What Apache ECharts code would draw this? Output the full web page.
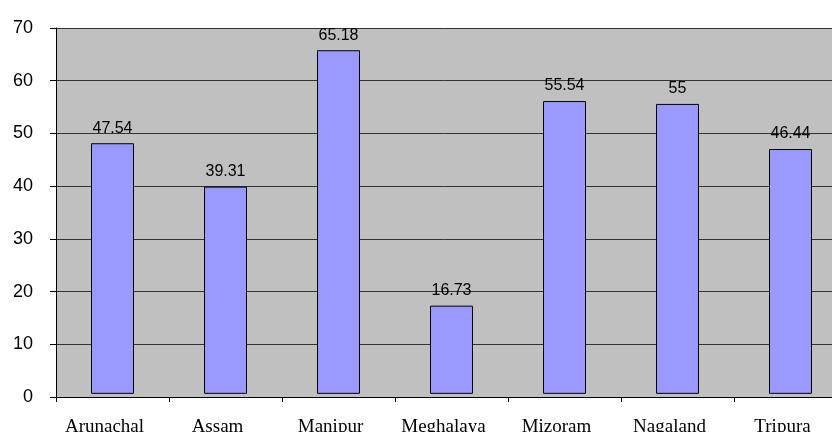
<!DOCTYPE html>
<html>
<head>
<meta charset="utf-8">
<script src="https://cdn.jsdelivr.net/npm/echarts@6/dist/echarts.min.js"></script>
<style>html,body{margin:0;padding:0;background:#fff;overflow:hidden}#c{width:832px;height:432px}</style>
</head>
<body>
<div id="c"></div>
<script>
const categories = ['Arunachal', 'Assam', 'Manipur', 'Meghalaya', 'Mizoram', 'Nagaland', 'Tripura'];
const values = [47.54, 39.31, 65.18, 16.73, 55.54, 55, 46.44];
const yMin = 0, yMax = 70, yInterval = 10;

const chart = echarts.init(document.getElementById('c'), null, {renderer: 'canvas'});
chart.setOption({
  animation: false,
  backgroundColor: '#ffffff',
  grid: {left: 56, top: 28, right: -15, bottom: 35, outerBoundsMode: 'none', containLabel: false, show: true, backgroundColor: '#c0c0c0', borderWidth: 0},
  xAxis: {
    type: 'category',
    data: categories,
    boundaryGap: true,
    axisLine: {show: true, lineStyle: {color: '#000', width: 1}},
    axisTick: {show: true, inside: false, length: 5, alignWithLabel: false, lineStyle: {color: '#000'}},
    axisLabel: {margin: 21, color: '#000', fontFamily: '"Liberation Serif", serif', fontSize: 19, interval: 0, padding: [0, 16, 0, 0]},
    splitLine: {show: false}
  },
  yAxis: [{
    type: 'value',
    min: yMin, max: yMax, interval: yInterval,
    axisLine: {show: true, lineStyle: {color: '#000', width: 1}},
    axisTick: {show: true, inside: false, length: 6, lineStyle: {color: '#000'}},
    axisLabel: {margin: 23, color: '#000', fontFamily: '"Liberation Sans", Arial, sans-serif', fontSize: 18},
    splitLine: {show: true, lineStyle: {color: '#333', width: 1}}
  }, {
    // hidden helper scale: reproduces the slight upward offset of the bars seen in the original
    type: 'value',
    min: yMin - 0.6, max: yMax - 0.6,
    show: false,
    splitLine: {show: false}
  }],
  series: [{
    type: 'bar',
    yAxisIndex: 1,
    data: values,
    barWidth: 43,
    itemStyle: {color: '#9999ff', borderColor: '#000', borderWidth: 1},
    label: {show: true, position: 'top', distance: 7, color: '#000', fontFamily: '"Liberation Sans", Arial, sans-serif', fontSize: 16}
  }]
});
</script>
</body>
</html>
